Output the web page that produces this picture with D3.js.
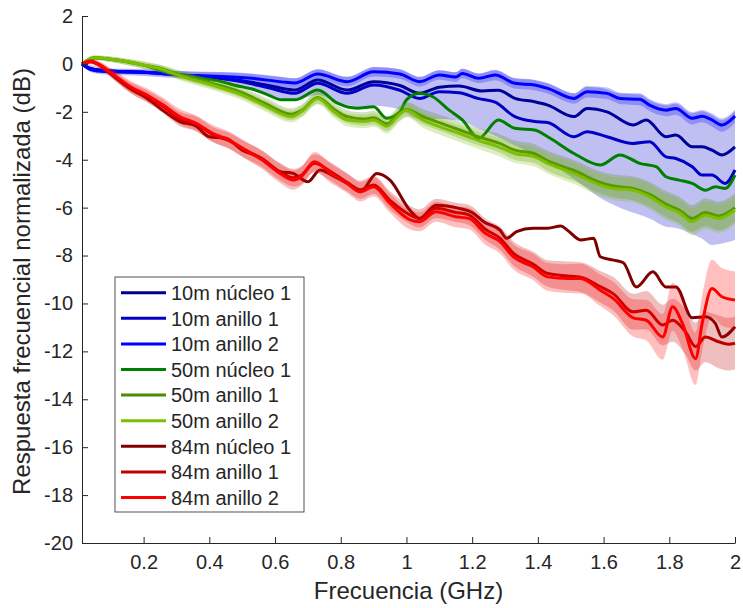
<!DOCTYPE html>
<html>
<head>
<meta charset="utf-8">
<script src="https://cdn.jsdelivr.net/npm/d3@7"></script>
<style>
  body { margin: 0; background: #fff; }
  text { font-family: "Liberation Sans", Arial, Helvetica, sans-serif; fill: #262626; }
</style>
</head>
<body>
<div id="chart"></div>
<script>
// Frequency response, points are [GHz, dB, band half width]
var s10n1 = [[0.0125,0],[0.04,-0.2],[0.1,-0.3],[0.2,-0.35],[0.3,-0.45],[0.4,-0.55],[0.5,-0.7],[0.58,-0.9],[0.66,-1.09],[0.73,-0.67],[0.82,-1.09],[0.9,-0.74],[0.98,-0.9],[1.04,-1.23],[1.1,-0.97],[1.16,-0.92],[1.23,-1.13],[1.28,-1.1],[1.33,-1.44],[1.39,-1.58],[1.43,-1.72],[1.51,-2.2],[1.55,-1.86],[1.61,-2.0],[1.69,-2.55],[1.73,-2.34],[1.79,-3.04],[1.82,-2.97],[1.87,-3.46],[1.9,-3.46],[1.93,-3.6],[1.96,-3.8],[2.0,-3.46]];
var s10a1 = [[0.0125,0],[0.04,-0.2],[0.1,-0.3],[0.2,-0.35],[0.3,-0.45],[0.4,-0.55],[0.5,-0.75],[0.58,-1.0],[0.66,-1.23],[0.73,-0.81],[0.82,-1.23],[0.9,-0.88],[0.98,-1.1],[1.04,-1.44],[1.1,-1.16],[1.16,-1.2],[1.22,-1.45],[1.27,-1.6],[1.33,-2.2],[1.39,-2.4],[1.43,-2.45],[1.51,-3.04],[1.55,-2.83],[1.61,-3.04],[1.69,-3.32],[1.74,-3.25],[1.79,-3.88],[1.82,-3.95],[1.87,-4.29],[1.9,-4.64],[1.93,-4.64],[1.97,-4.99],[2.0,-4.43]];
var s10a2 = [[0.0125,0,0.05],[0.04,-0.25,0.1],[0.08,-0.32,0.12],[0.2,-0.35,0.15],[0.31,-0.46,0.15],[0.4,-0.5,0.17],[0.53,-0.6,0.18],[0.62,-0.75,0.2],[0.66,-0.8,0.2],[0.73,-0.42,0.2],[0.82,-0.74,0.2],[0.9,-0.33,0.2],[0.98,-0.42,0.2],[1.04,-0.74,0.2],[1.1,-0.46,0.2],[1.15,-0.55,0.2],[1.17,-0.4,0.2],[1.22,-0.6,0.2],[1.27,-0.46,0.22],[1.33,-0.81,0.22],[1.39,-0.88,0.22],[1.43,-1.02,0.22],[1.51,-1.44,0.22],[1.55,-1.16,0.24],[1.61,-1.23,0.24],[1.65,-1.44,0.24],[1.71,-1.48,0.25],[1.74,-1.72,0.25],[1.79,-1.93,0.25],[1.82,-1.86,0.26],[1.87,-2.27,0.26],[1.9,-2.18,0.26],[1.93,-2.34,0.27],[1.96,-2.55,0.28],[2.0,-2.18,0.28]];
// spread of 10m anillo 1: [GHz, low, high]
var b10a1 = [[0.0125,-0.05,0.05],[0.1,-0.4,-0.2],[0.2,-0.45,-0.25],[0.3,-0.55,-0.3],[0.4,-0.7,-0.35],[0.45,-0.8,-0.35],[0.53,-1.05,-0.4],[0.6,-1.4,-0.5],[0.66,-1.5,-0.6],[0.73,-1.3,-0.22],[0.8,-1.65,-0.5],[0.82,-1.7,-0.54],[0.87,-1.85,-0.3],[0.9,-1.75,-0.13],[0.98,-1.9,-0.22],[1.04,-2.3,-0.54],[1.1,-2.3,-0.26],[1.15,-2.35,-0.35],[1.17,-2.4,-0.2],[1.22,-2.7,-0.4],[1.27,-3.0,-0.26],[1.33,-3.4,-0.61],[1.39,-3.8,-0.68],[1.43,-4.1,-0.82],[1.51,-4.8,-1.24],[1.55,-5.2,-0.96],[1.59,-5.6,-1.0],[1.65,-6.0,-1.24],[1.71,-6.3,-1.28],[1.74,-6.45,-1.52],[1.79,-6.8,-1.73],[1.82,-6.85,-1.66],[1.87,-7.1,-2.07],[1.9,-7.3,-1.98],[1.93,-7.56,-2.14],[1.96,-7.5,-2.35],[2.0,-7.35,-1.98]];

var s50n1 = [[0.0125,0],[0.05,0.26],[0.12,0.16],[0.2,-0.05],[0.26,-0.3],[0.31,-0.45],[0.37,-0.6],[0.43,-0.72],[0.48,-0.9],[0.53,-1.05],[0.58,-1.3],[0.62,-1.5],[0.66,-1.5],[0.73,-1.09],[0.79,-1.64],[0.85,-1.85],[0.9,-1.79],[0.94,-2.27],[0.98,-2.0],[1.0,-1.5],[1.04,-1.23],[1.08,-1.37],[1.13,-1.93],[1.17,-2.34],[1.22,-3.1],[1.28,-2.34],[1.33,-2.69],[1.39,-2.76],[1.43,-3.04],[1.51,-3.74],[1.59,-4.22],[1.65,-3.8],[1.71,-4.15],[1.76,-4.29],[1.79,-4.71],[1.83,-4.85],[1.87,-4.99],[1.91,-5.27],[1.94,-5.13],[1.97,-5.2],[2.0,-4.64]];
var s50a1 = [[0.0125,0,0.05],[0.05,0.25,0.1],[0.12,0.15,0.12],[0.2,-0.05,0.15],[0.25,-0.18,0.15],[0.31,-0.45,0.18],[0.4,-0.78,0.2],[0.5,-1.2,0.22],[0.57,-1.65,0.24],[0.65,-2.1,0.25],[0.68,-1.95,0.25],[0.73,-1.4,0.25],[0.78,-1.9,0.26],[0.82,-2.2,0.27],[0.87,-2.3,0.28],[0.9,-2.25,0.28],[0.94,-2.5,0.3],[0.98,-2.05,0.3],[1.0,-1.9,0.3],[1.05,-2.2,0.32],[1.1,-2.45,0.33],[1.16,-2.75,0.35],[1.22,-3.05,0.36],[1.28,-3.3,0.38],[1.33,-3.6,0.4],[1.39,-3.75,0.4],[1.43,-4.05,0.42],[1.51,-4.45,0.44],[1.59,-4.95,0.46],[1.63,-5.1,0.48],[1.69,-5.2,0.5],[1.74,-5.45,0.52],[1.79,-5.85,0.54],[1.83,-6.1,0.55],[1.87,-6.45,0.56],[1.91,-6.2,0.58],[1.95,-6.35,0.6],[2.0,-6.0,0.6]];
var s50a2 = [[0.0125,0,0.05],[0.05,0.26,0.1],[0.12,0.16,0.12],[0.2,-0.05,0.15],[0.25,-0.2,0.15],[0.31,-0.5,0.18],[0.4,-0.85,0.2],[0.5,-1.3,0.22],[0.57,-1.75,0.24],[0.65,-2.2,0.25],[0.68,-2.0,0.25],[0.73,-1.44,0.25],[0.78,-2.0,0.26],[0.82,-2.34,0.27],[0.87,-2.4,0.28],[0.9,-2.34,0.28],[0.94,-2.6,0.3],[0.98,-2.1,0.3],[1.0,-1.93,0.3],[1.05,-2.34,0.32],[1.1,-2.62,0.33],[1.16,-2.9,0.35],[1.22,-3.2,0.36],[1.28,-3.46,0.38],[1.33,-3.74,0.4],[1.39,-3.88,0.4],[1.43,-4.15,0.42],[1.51,-4.57,0.44],[1.59,-5.06,0.46],[1.63,-5.2,0.48],[1.69,-5.27,0.5],[1.74,-5.55,0.52],[1.79,-5.97,0.54],[1.83,-6.2,0.55],[1.87,-6.59,0.56],[1.91,-6.31,0.58],[1.95,-6.45,0.6],[2.0,-6.1,0.6]];

var s84n1 = [[0.0125,0],[0.04,0.1],[0.06,0.0],[0.11,-0.53],[0.16,-1.05],[0.21,-1.43],[0.25,-1.85],[0.31,-2.41],[0.36,-2.6],[0.4,-3.04],[0.45,-3.1],[0.5,-3.6],[0.55,-3.88],[0.615,-4.5],[0.655,-4.57],[0.7,-4.92],[0.737,-4.43],[0.78,-4.7],[0.82,-4.99],[0.86,-5.34],[0.91,-4.57],[0.95,-4.85],[1.01,-6.1],[1.04,-6.45],[1.09,-5.9],[1.16,-6.03],[1.2,-6.2],[1.235,-6.59],[1.285,-6.94],[1.305,-7.28],[1.335,-7.0],[1.385,-6.86],[1.43,-6.86],[1.47,-6.77],[1.49,-6.94],[1.53,-7.35],[1.57,-7.28],[1.59,-8.05],[1.63,-8.19],[1.66,-8.3],[1.7,-9.31],[1.75,-8.68],[1.79,-9.31],[1.82,-9.31],[1.87,-10.6],[1.91,-10.56],[1.94,-10.83],[1.96,-11.4],[2.0,-10.97]];
var s84a1 = [[0.0125,0,0.05],[0.04,0.1,0.1],[0.06,0.0,0.12],[0.11,-0.5,0.18],[0.16,-1.0,0.22],[0.21,-1.35,0.25],[0.26,-1.78,0.28],[0.31,-2.3,0.3],[0.36,-2.5,0.3],[0.41,-2.95,0.32],[0.46,-3.2,0.33],[0.51,-3.6,0.34],[0.56,-3.95,0.35],[0.615,-4.5,0.36],[0.655,-4.75,0.37],[0.68,-4.65,0.37],[0.72,-4.15,0.38],[0.77,-4.5,0.38],[0.82,-4.95,0.38],[0.86,-5.25,0.38],[0.9,-5.05,0.38],[0.95,-5.7,0.38],[1.01,-6.3,0.38],[1.04,-6.45,0.38],[1.09,-6.03,0.4],[1.15,-6.2,0.4],[1.19,-6.3,0.42],[1.24,-6.9,0.45],[1.285,-7.28,0.48],[1.325,-7.9,0.5],[1.385,-8.35,0.52],[1.43,-8.75,0.55],[1.49,-8.85,0.6],[1.53,-8.9,0.62],[1.59,-9.3,0.66],[1.63,-9.6,0.7],[1.69,-10.35,0.75],[1.73,-10.28,0.8],[1.78,-10.9,0.85],[1.81,-10.7,0.9],[1.85,-11.2,0.95],[1.88,-11.8,1.0],[1.91,-11.4,1.05],[1.95,-11.6,1.1],[1.98,-11.7,1.1],[2.0,-11.66,1.1]];
var s84a2 = [[0.0125,0,0.05],[0.04,0.1,0.1],[0.06,0.0,0.12],[0.11,-0.46,0.2],[0.16,-0.95,0.25],[0.21,-1.3,0.28],[0.26,-1.72,0.3],[0.31,-2.2,0.32],[0.36,-2.48,0.33],[0.41,-2.9,0.35],[0.46,-3.18,0.36],[0.51,-3.6,0.37],[0.56,-4.0,0.38],[0.615,-4.57,0.4],[0.655,-4.85,0.4],[0.68,-4.7,0.4],[0.72,-4.08,0.4],[0.77,-4.57,0.4],[0.82,-4.99,0.4],[0.86,-5.34,0.4],[0.9,-5.13,0.4],[0.95,-5.82,0.4],[1.01,-6.5,0.4],[1.04,-6.59,0.4],[1.09,-6.17,0.42],[1.15,-6.38,0.44],[1.19,-6.45,0.45],[1.24,-7.07,0.48],[1.285,-7.42,0.5],[1.325,-8.05,0.52],[1.385,-8.47,0.55],[1.43,-8.89,0.58],[1.49,-8.96,0.6],[1.53,-8.96,0.62],[1.59,-9.45,0.66],[1.63,-9.8,0.7],[1.69,-10.6,0.78],[1.73,-10.7,0.85],[1.78,-11.4,0.95],[1.81,-10.14,1.0],[1.84,-10.83,1.05],[1.88,-12.3,1.1],[1.9,-10.83,1.15],[1.93,-9.38,1.2],[1.96,-9.72,1.2],[2.0,-9.86,1.2]];

var names = ["10m núcleo 1", "10m anillo 1", "10m anillo 2",
             "50m núcleo 1", "50m anillo 1", "50m anillo 2",
             "84m núcleo 1", "84m anillo 1", "84m anillo 2"];
var colors = ["#00008c", "#0000c8", "#0000ff",
              "#008000", "#4d8c00", "#7cbf00",
              "#800000", "#c00000", "#ff0000"];
var series = [s10n1, s10a1, s10a2, s50n1, s50a1, s50a2, s84n1, s84a1, s84a2];

var xTicks = [0.2, 0.4, 0.6, 0.8, 1, 1.2, 1.4, 1.6, 1.8, 2];
var yTicks = [2, 0, -2, -4, -6, -8, -10, -12, -14, -16, -18, -20];

var width = 743, height = 608;
var margin = {top: 16, right: 8, bottom: 65, left: 82};

var svg = d3.select("#chart").append("svg")
  .attr("width", width)
  .attr("height", height);

var x = d3.scaleLinear().domain([0.0125, 2]).range([margin.left, width - margin.right]);
var y = d3.scaleLinear().domain([-20, 2]).range([height - margin.bottom, margin.top]);

var line = d3.line()
  .x(function(d) { return x(d[0]); })
  .y(function(d) { return y(d[1]); })
  .curve(d3.curveMonotoneX);

var band = d3.area()
  .x(function(d) { return x(d[0]); })
  .y0(function(d) { return y(d[1] - d[2]); })
  .y1(function(d) { return y(d[1] + d[2]); })
  .curve(d3.curveMonotoneX);

var spread = d3.area()
  .x(function(d) { return x(d[0]); })
  .y0(function(d) { return y(d[1]); })
  .y1(function(d) { return y(d[2]); })
  .curve(d3.curveMonotoneX);

var plot = svg.append("g");

// bands first, then line, in plot order
series.forEach(function(s, i) {
  if (i === 1) {
    plot.append("path").datum(b10a1)
      .attr("d", spread)
      .attr("fill", colors[i]).attr("fill-opacity", 0.25);
  } else if (s[0].length > 2) {
    plot.append("path").datum(s)
      .attr("d", band)
      .attr("fill", colors[i]).attr("fill-opacity", 0.25);
  }
  plot.append("path").datum(s)
    .attr("d", line)
    .attr("fill", "none")
    .attr("stroke", colors[i])
    .attr("stroke-width", 3)
    .attr("stroke-linejoin", "round");
});

// Axes
var xAxis = d3.axisBottom(x)
  .tickValues(xTicks)
  .tickSize(-6)
  .tickSizeOuter(0)
  .tickPadding(12)
  .tickFormat(function(d) { return String(d); });
var yAxis = d3.axisLeft(y)
  .tickValues(yTicks)
  .tickSize(-6)
  .tickSizeOuter(0)
  .tickPadding(9)
  .tickFormat(function(d) { return String(d); });

var gx = svg.append("g")
  .attr("transform", "translate(0," + (height - margin.bottom) + ")")
  .call(xAxis);
var gy = svg.append("g")
  .attr("transform", "translate(" + margin.left + ",0)")
  .call(yAxis);

[gx, gy].forEach(function(g) {
  g.selectAll(".domain").attr("stroke", "#262626");
  g.selectAll(".tick line").attr("stroke", "#262626");
  g.selectAll("text")
    .attr("font-family", "Liberation Sans, Arial, sans-serif")
    .attr("font-size", 20)
    .attr("fill", "#262626");
});

svg.append("text")
  .attr("x", (margin.left + width - margin.right) / 2)
  .attr("y", 599)
  .attr("text-anchor", "middle")
  .attr("font-size", 24)
  .text("Frecuencia (GHz)");

svg.append("text")
  .attr("transform", "translate(30," + ((margin.top + height - margin.bottom) / 2 + 2) + ") rotate(-90)")
  .attr("text-anchor", "middle")
  .attr("font-size", 24)
  .text("Respuesta frecuencial normalizada (dB)");

// Legend
var legend = svg.append("g").attr("transform", "translate(115,277)");
legend.append("rect")
  .attr("width", 189)
  .attr("height", 235)
  .attr("fill", "#fff")
  .attr("stroke", "#262626")
  .attr("stroke-width", 0.8);
var rows = legend.selectAll(".row")
  .data(names).enter().append("g")
  .attr("transform", function(d, i) { return "translate(0," + (15.7 + i * 25.6) + ")"; });
rows.append("line")
  .attr("x1", 6).attr("x2", 51)
  .attr("stroke", function(d, i) { return colors[i]; })
  .attr("stroke-width", 3);
rows.append("text")
  .attr("x", 56)
  .attr("dy", "0.36em")
  .attr("font-size", 20)
  .text(function(d) { return d; });
</script>
</body>
</html>
